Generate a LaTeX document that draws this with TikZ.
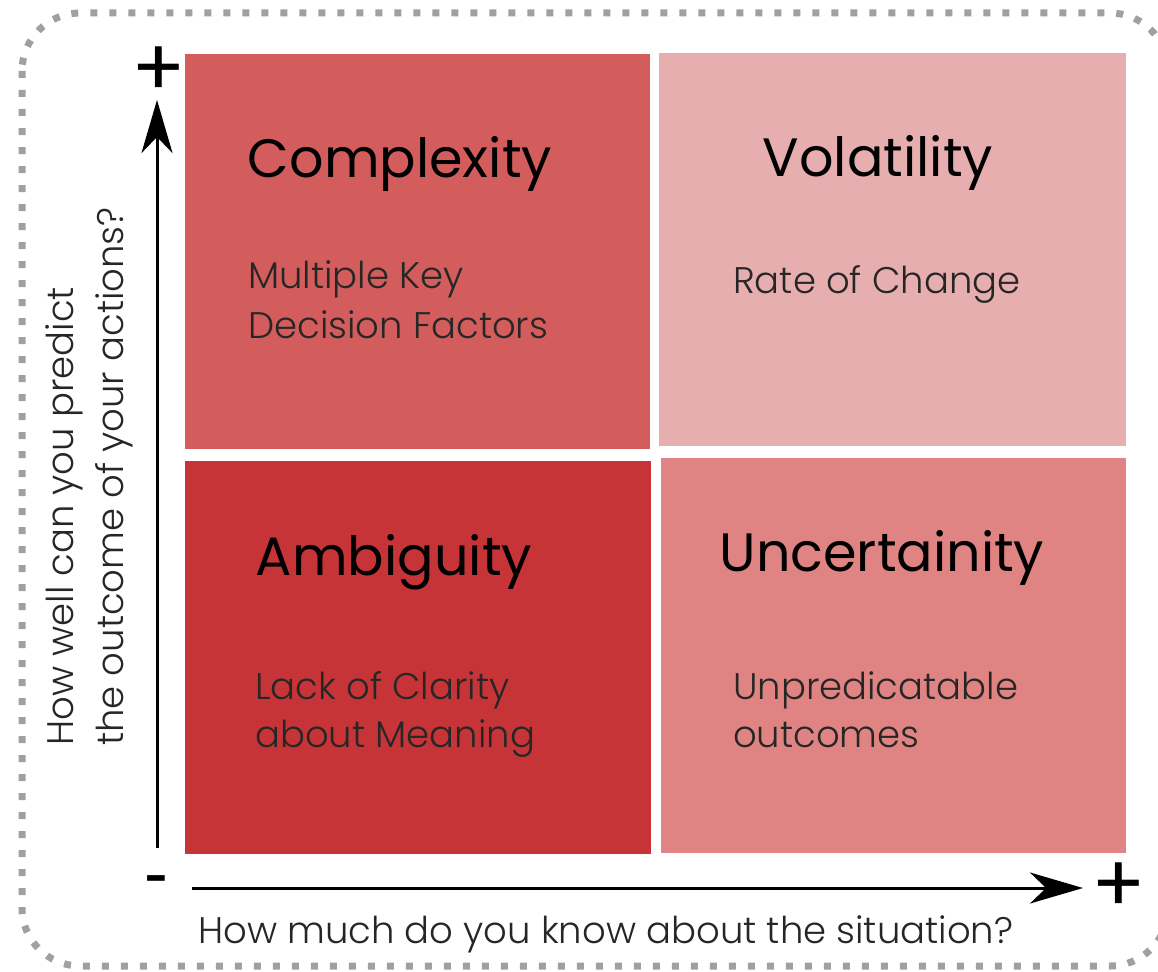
\documentclass[tikz,border=0pt]{standalone}
\usepackage{fontspec}
\setmainfont{Poppins}
\newfontfamily\lightfont{Poppins Light}
\usetikzlibrary{arrows.meta}
\definecolor{qTL}{HTML}{D35C5C}
\definecolor{qTR}{HTML}{E6AEAE}
\definecolor{qBL}{HTML}{C73437}
\definecolor{qBR}{HTML}{DF8482}
\definecolor{bordergray}{HTML}{A0A0A0}
\begin{document}
\begin{tikzpicture}[x=1pt,y=-1pt,
  title/.style={font=\fontsize{54}{60}\selectfont,text=black,inner sep=0pt,anchor=base},
  sub/.style={font=\lightfont\fontsize{37}{50}\selectfont,text=black!85,inner sep=0pt,anchor=base west},
  axislabel/.style={font=\lightfont\fontsize{37}{50}\selectfont,text=black!85,inner sep=0pt,anchor=base west},
  axis/.style={line width=3pt,-{Stealth[length=53pt,width=31pt,inset=16pt]}},
  sign/.style={font=\fontsize{80}{80}\selectfont,inner sep=0pt}]
\useasboundingbox (0,0) rectangle (1158,971);
\begin{scope}
\clip (0,0) rectangle (1158,971);
\draw[bordergray,line width=7pt,dash pattern=on 7pt off 12pt,rounded corners=58pt] (22,13) rectangle (1168,966);
\end{scope}
% quadrants
\fill[qTL] (185,54) rectangle (650,449);
\fill[qTR] (659,53) rectangle (1126,446);
\fill[qBL] (185,461) rectangle (651,854);
\fill[qBR] (661,458) rectangle (1126,853);
\node[title] (complexity) at (400,177) {Complexity};
\node[title] (volatility) at (878,176) {Volatility};
\node[title] (ambiguity) at (394,575) {Ambiguity};
\node[title] (uncertainity) at (882,571) {Uncertainity};
\node[sub] (mk1) at (248,288) {Multiple Key};
\node[sub] (mk2) at (248,338) {Decision Factors};
\node[sub] (rc) at (733,293) {Rate of Change};
\node[sub] (lc1) at (255,699) {Lack of Clarity};
\node[sub] (lc2) at (255,747) {about Meaning};
\node[sub] (uo1) at (733,699) {Unpredicatable};
\node[sub] (uo2) at (733,747) {outcomes};
% axes
\coordinate (yfrom) at (157,848);
\coordinate (yto) at (157,100);
\coordinate (xfrom) at (192,888);
\coordinate (xto) at (1083,888);
\draw[axis] (yfrom) -- (yto);
\draw[axis] (xfrom) -- (xto);
\node[sign] (yplus) at (159,72) {+};
\node[sign] (xplus) at (1119,888) {+};
\node[font=\bfseries\fontsize{40}{40}\selectfont,inner sep=0pt] (minus) at (157,884) {-};
\node[axislabel] (xlabel) at (198,943) {How much do you know about the situation?};
\node[axislabel,rotate=90] (ylabel1) at (73,746) {How well can you predict};
\node[axislabel,rotate=90] (ylabel2) at (123,746) {the outcome of your actions?};
\end{tikzpicture}
\end{document}
